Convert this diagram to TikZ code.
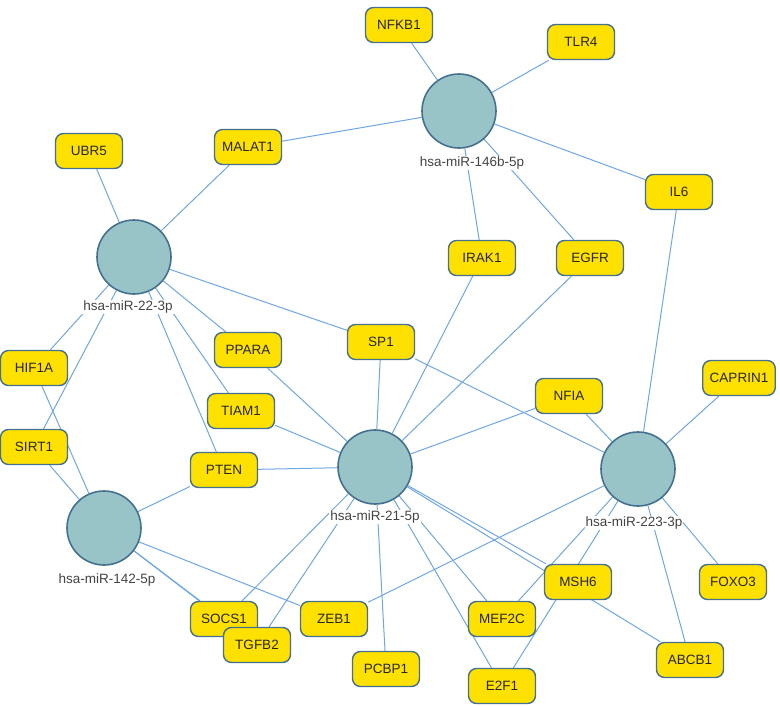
\documentclass[tikz,border=0pt]{standalone}
\usepackage{fontspec}
\setmainfont{Liberation Sans}
\usetikzlibrary{backgrounds}

\definecolor{geneyellow}{HTML}{FFE100}
\definecolor{mirteal}{HTML}{98C4C8}
\definecolor{rimblue}{HTML}{45708F}
\definecolor{edgeblue}{HTML}{6FA6E6}
\definecolor{labgray}{HTML}{444444}

\begin{document}
\begin{tikzpicture}[x=1pt, y=-1pt,
  gene/.style={draw=rimblue, line width=1.4pt, fill=geneyellow, rounded corners=8pt, minimum width=67pt, minimum height=35pt, inner xsep=7pt, text=black!85, font=\fontsize{13.5}{13.5}\selectfont},
  mir/.style={circle, draw=rimblue, line width=1.6pt, fill=mirteal, minimum size=74pt},
  mirlab/.style={fill=white, inner sep=1pt, text=labgray, font=\fontsize{13.5}{13.5}\selectfont},
  link/.style={edgeblue, line width=1pt}]

\useasboundingbox (0,0) rectangle (780,705);

% the five miRNAs
\node[mir] (m146) at (459,111) {};
\node[mir] (m22) at (134,257) {};
\node[mir] (m142) at (104,528) {};
\node[mir] (m21) at (375,467) {};
\node[mir] (m223) at (638,469) {};

\node[mirlab] (l146) at (472,163) {hsa-miR-146b-5p};
\node[mirlab] (l22) at (128,307) {hsa-miR-22-3p};
\node[mirlab] (l142) at (107,580) {hsa-miR-142-5p};
\node[mirlab] (l21) at (375,517) {hsa-miR-21-5p};
\node[mirlab] (l223) at (634,523) {hsa-miR-223-3p};

% target genes
\node[gene] (nfkb1) at (399,25) {NFKB1};
\node[gene] (tlr4) at (581,42) {TLR4};
\node[gene] (malat1) at (248,147) {MALAT1};
\node[gene] (ubr5) at (89,151) {UBR5};
\node[gene] (il6) at (679,192) {IL6};
\node[gene] (irak1) at (482,258) {IRAK1};
\node[gene] (egfr) at (590,258) {EGFR};
\node[gene] (sp1) at (381,342) {SP1};
\node[gene] (ppara) at (248,350) {PPARA};
\node[gene] (hif1a) at (34,368) {HIF1A};
\node[gene] (sirt1) at (34,447) {SIRT1};
\node[gene] (tiam1) at (241,411) {TIAM1};
\node[gene] (pten) at (224,470) {PTEN};
\node[gene] (nfia) at (569,396) {NFIA};
\node[gene] (caprin1) at (739,378) {CAPRIN1};
\node[gene] (msh6) at (578,582) {MSH6};
\node[gene] (foxo3) at (733,582) {FOXO3};
\node[gene] (socs1) at (224,619) {SOCS1};
\node[gene] (zeb1) at (334,619) {ZEB1};
\node[gene] (mef2c) at (502,619) {MEF2C};
\node[gene] (tgfb2) at (257,645) {TGFB2};
\node[gene] (abcb1) at (690,660) {ABCB1};
\node[gene] (pcbp1) at (386,669) {PCBP1};
\node[gene] (e2f1) at (502,686) {E2F1};

% interactions
\begin{scope}[on background layer]
\foreach \g in {nfkb1,tlr4,malat1,il6,irak1,egfr}
  \draw[link] (m146) -- (\g);
\foreach \g in {ubr5,malat1,sp1,ppara,tiam1,pten,hif1a,sirt1}
  \draw[link] (m22) -- (\g);
\foreach \g in {hif1a,sirt1,pten,socs1,tgfb2,zeb1}
  \draw[link] (m142) -- (\g);
\foreach \g in {ppara,tiam1,pten,sp1,irak1,egfr,nfia,msh6,abcb1,mef2c,e2f1,pcbp1,tgfb2,socs1}
  \draw[link] (m21) -- (\g);
\foreach \g in {il6,caprin1,nfia,sp1,foxo3,abcb1,mef2c,e2f1,zeb1}
  \draw[link] (m223) -- (\g);
\end{scope}

\end{tikzpicture}
\end{document}
